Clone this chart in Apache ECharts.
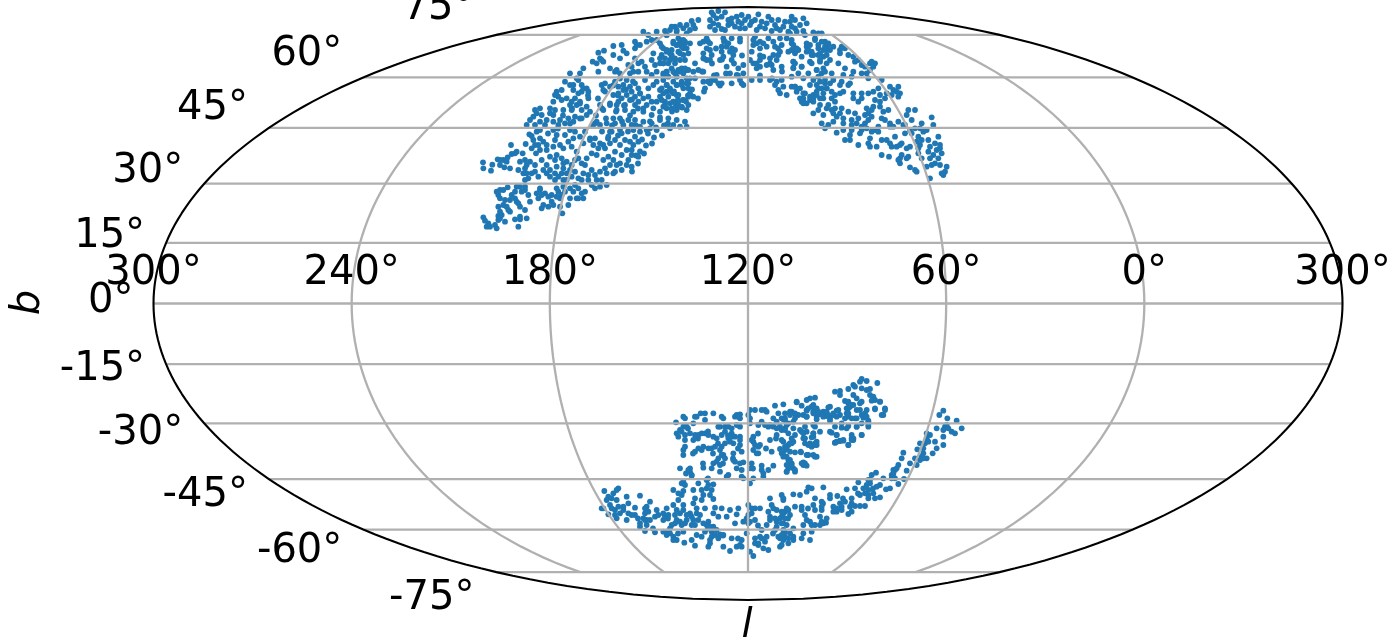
<!DOCTYPE html>
<html><head><meta charset="utf-8">
<script src="https://cdn.jsdelivr.net/npm/echarts@6/dist/echarts.min.js"></script>
<style>html,body{margin:0;padding:0;background:#fff}#c{width:1392px;height:642px}</style>
</head><body><div id="c"></div>
<script>
// Digitised star readings: [x, y] pairs, each group read on its own enlarged sheet of the sky map.
const northWest=[[24,97],[25,115],[48,122],[52,104],[68,88],[75,105],[88,112],[105,115],[85,90],[98,82],[108,45],[110,72],[125,65],[143,70],[152,42],[163,13],[185,5],[175,30],[190,45],[205,35],[215,45],[183,70],[150,90],[165,95],[180,105],[150,115],[145,130],[160,145],[180,125],[200,90],[215,105],[225,80],[240,90],[260,85],[275,95],[245,110],[265,115],[285,120],[300,90],[320,100],[305,65],[290,50],[265,55],[240,30],[245,15],[270,15],[300,5],[330,5],[355,45],[375,40],[390,55],[365,75],[400,20],[410,5],[440,10],[465,35],[490,35],[470,60],[435,45],[420,65],[400,80],[385,90],[415,90],[435,100],[460,90],[490,80],[470,110],[440,120],[420,125],[395,130],[375,125],[350,120],[325,130],[310,145],[290,140],[260,130],[240,130],[215,130],[190,140],[75,180],[70,195],[98,172],[120,185],[135,170],[150,180],[160,195],[195,180],[210,190],[230,195],[250,185],[265,170],[285,175],[310,175],[330,185],[360,175],[395,165],[285,205],[305,205],[325,205],[255,205],[230,215],[220,230],[200,235],[190,205],[165,215],[125,215],[135,230],[105,210],[85,225],[70,230],[150,240],[105,245],[80,255],[70,270],[25,262],[40,280],[35,290],[65,295],[90,275],[120,268],[135,260],[155,265],[130,290],[262,250],[280,225],[255,230],
[170,18],[195,25],[180,45],[195,60],[170,55],[215,60],[235,50],[255,45],[280,35],[295,25],[315,20],[325,40],[345,30],[360,25],[370,55],[350,70],[385,45],[405,40],[420,30],[450,30],[475,45],[480,20],[495,5],[455,60],[440,75],[470,75],[455,105],[425,105],[405,105],[390,115],[360,135],[340,135],[330,105],[335,85],[310,85],[290,105],[300,125],[275,130],[250,140],[265,100],[245,75],[225,120],[205,120],[170,130],[155,105],[135,95],[130,120],[155,130],[120,70],[95,95],[75,90],[225,140],[265,150],[275,150],[320,150],[340,150],[365,150],[380,150],[415,130],[350,165],[375,170],[300,165],[320,190],[295,185],[310,205],[270,185],[260,195],[245,175],[245,200],[220,200],[200,195],[185,190],[205,225],[235,225],[195,175],[150,170],[125,170],[140,185],[110,195],[85,180],[65,185],[75,205],[90,210],[120,205],[130,220],[95,230],[75,245],[70,258],[100,240],[45,290],[30,272],[60,285],[75,265],[135,268],[240,150],[150,150]];
const northMid=[[370,5],[385,15],[410,5],[345,35],[360,45],[345,55],[380,35],[410,30],[280,48],[305,45],[235,68],[252,62],[280,75],[300,85],[310,62],[320,70],[240,85],[250,95],[218,95],[325,105],[345,85],[355,100],[375,110],[400,70],[420,85],[430,100],[450,70],[460,40],[480,40],[490,55],[465,90],[455,115],[475,120],[500,120],[430,55],[190,115],[150,130],[180,130],[235,125],[270,115],[285,125],[300,130],[340,125],[380,125],[410,125],[440,125],[135,155],[150,165],[175,150],[185,165],[200,175],[160,180],[110,185],[115,200],[100,215],[140,205],[165,205],[185,185],[205,205],[245,165],[250,180],[285,155],[270,170],[320,150],[345,160],[375,150],[400,165],[420,180],[440,185],[470,165],[490,175],[505,160],[310,180],[335,185],[360,190],[385,200],[280,195],[295,215],[330,210],[355,215],[380,225],[410,215],[435,215],[460,215],[490,210],[505,200],[170,225],[155,240],[185,240],[130,240],[90,235],[60,235],[45,240],[40,260],[30,270],[60,275],[80,270],[100,255],[120,270],[145,265],[165,260],[210,245],[240,225],[270,225],[290,240],[315,240],[340,245],[370,245],[395,255],[420,245],[440,235],[470,240],[500,240],[225,280],[240,285],[280,265],[300,265],[325,270],[345,270],[370,275],[395,280],[420,270],[445,265],[470,270],[495,275],[60,300],[100,300],[150,300],[270,305],[300,300],[340,300],[380,300],[410,300],[450,295],
[440,15],[470,5],[500,10],[350,45],[395,30],[420,40],[440,60],[455,80],[420,100],[445,100],[470,45],[495,35],[480,70],[495,90],[505,70],[245,90],[230,100],[290,120],[335,110],[365,95],[395,90],[405,105],[330,130],[355,125],[395,135],[430,130],[465,130],[490,130],[170,145],[160,165],[190,175],[205,185],[125,180],[105,195],[125,210],[175,190],[155,215],[180,215],[150,225],[200,230],[255,160],[295,170],[310,165],[330,170],[355,175],[385,175],[410,155],[440,165],[455,185],[485,160],[500,145],[295,190],[320,195],[345,200],[305,205],[370,205],[395,215],[420,200],[445,200],[470,195],[475,215],[290,225],[315,225],[345,225],[370,235],[400,235],[430,230],[455,235],[485,230],[505,225],[50,250],[65,255],[90,250],[105,240],[75,285],[115,285],[135,280],[160,275],[185,265],[200,255],[250,240],[230,275],[260,280],[285,280],[310,285],[335,285],[360,290],[390,295],[440,285],[460,285],[480,290],[500,290],[20,285],[45,285],[100,275]];
const northTop=[[155,22],[175,18],[195,22],[150,45],[170,40],[150,65],[175,60],[205,45],[230,35],[245,30],[265,35],[295,28],[285,45],[325,35],[355,45],[395,35],[430,40],[440,55],[375,50],[345,60],[320,55],[300,65],[270,60],[245,55],[225,65],[205,60],[185,72],[165,75],[405,70],[385,80],[360,75],[335,78],[430,78],[460,82],[485,85],[115,45],[95,48],[105,70],[80,60],[70,70],[45,65],[30,75],[15,78],[50,75],[140,100],[190,100],[215,100],[240,100],[280,105],[300,110],[325,100],[360,100],[380,100],[320,125],[300,130],[280,120],[465,100],[495,110],[440,125],[475,130],[500,135],[410,130],[385,140],[360,140],[340,150],[300,165],[280,175],[290,190],[320,180],[350,165],[335,180],[365,185],[400,170],[400,188],[425,185],[450,170],[500,175],[470,195],[120,115],[130,110],[60,105],[75,115],[50,120],[80,130],[55,140],[35,150],[30,165],[60,165],[5,125],[5,150],[10,175],[130,145],[150,135],[155,150],[140,165],[185,125],[200,125],[210,140],[190,155],[215,165],[180,165],[200,185],[210,205],[235,190],[250,180],[65,190],[85,195],[105,175],[115,195],[130,200],[40,200],[20,200],[170,210],[230,210],[250,205],[10,225],[40,230],[65,230],[90,220],[105,220],[130,230],[150,235],[135,250],[165,225],[185,235],[215,235],[245,235],[250,240],[275,225],[300,225],[330,225],[345,240],[365,225],[355,255],[380,270],[405,245],[435,265],[425,290],[440,295],[460,270],[470,240],[495,235],[490,280],[5,250],[30,250],[55,270],[90,265],[100,275],[70,285],[30,295],[55,305],[5,285],
[160,30],[185,35],[160,55],[215,40],[215,55],[235,50],[255,45],[275,50],[305,50],[335,45],[350,70],[370,65],[390,50],[405,45],[420,60],[395,65],[410,80],[315,70],[290,75],[255,70],[240,70],[195,75],[60,60],[100,60],[90,75],[35,65],[20,90],[55,100],[70,105],[40,110],[65,125],[90,115],[35,135],[45,160],[70,150],[20,140],[15,160],[45,175],[140,130],[150,115],[130,160],[150,165],[195,110],[205,115],[220,150],[225,135],[185,140],[290,115],[310,115],[285,95],[275,140],[340,110],[345,125],[365,120],[395,115],[405,145],[330,160],[310,155],[290,175],[270,165],[300,185],[340,195],[355,150],[440,140],[455,150],[475,150],[490,155],[480,170],[505,120],[60,200],[75,190],[100,200],[10,210],[25,215],[50,215],[80,235],[50,240],[20,240],[10,265],[40,265],[65,240],[85,250],[175,235],[155,225],[240,225],[350,230],[370,245],[360,265],[395,245],[430,280],[450,285],[470,260],[485,250],[500,250],[460,290],[480,300],[15,300],[40,290]];
const northEast=[[0,10],[45,15],[85,10],[5,30],[50,40],[75,30],[95,35],[115,40],[130,50],[5,60],[25,60],[55,60],[70,75],[100,60],[110,75],[150,60],[165,55],[150,70],[35,80],[10,95],[35,110],[10,115],[65,100],[90,90],[120,90],[145,100],[190,80],[205,90],[215,105],[240,100],[255,100],[240,120],[100,115],[125,130],[165,115],[190,125],[215,130],[235,145],[275,150],[40,145],[5,140],[85,140],[105,150],[130,150],[155,155],[180,160],[60,165],[15,170],[20,185],[40,190],[85,175],[110,175],[150,190],[125,205],[175,165],[235,190],[215,190],[265,175],[270,195],[300,170],[325,170],[330,190],[305,195],[40,220],[70,205],[90,205],[115,225],[135,215],[190,205],[205,215],[255,210],[285,205],[155,235],[125,240],[70,250],[100,255],[140,260],[175,245],[230,235],[250,230],[270,230],[295,240],[225,255],[245,260],[275,265],[300,280],[325,275],[355,240],[375,240],[350,255],[365,270],[425,262],[395,280],[430,285],[95,280],[130,275],[160,280],[185,270],[205,265],[225,280],[105,295],[140,308],[160,300],[185,300],[215,300],[255,300],[300,290],[345,285],[375,295],[410,300],[165,330],[180,315],[205,345],[235,340],[240,325],[265,305],[315,320],[335,340],[345,310],[385,320],[415,330],[445,320],[260,350],[275,330],[300,340],[320,350],[350,355],[390,345],[420,350],[450,355],[275,375],[297,380],[330,385],[355,380],[385,370],[430,375],[455,370],[445,385],[425,405],[410,410],[360,412],[380,425],[330,400],[470,410],[450,405],[460,435],[420,445],
[10,45],[20,60],[60,45],[85,45],[65,65],[90,70],[105,50],[120,60],[155,50],[175,75],[195,95],[225,110],[245,95],[250,110],[230,130],[15,100],[25,130],[95,130],[105,125],[80,120],[55,130],[70,150],[90,155],[120,160],[150,165],[160,135],[185,140],[30,175],[30,205],[40,215],[60,200],[80,195],[100,190],[125,185],[135,195],[160,185],[190,190],[215,205],[250,185],[290,190],[320,185],[310,180],[325,200],[270,215],[245,240],[235,250],[85,240],[110,235],[135,235],[150,250],[130,250],[160,265],[195,250],[200,280],[235,270],[280,245],[265,290],[285,270],[310,290],[340,285],[360,300],[365,310],[390,295],[400,305],[115,285],[215,290],[230,295],[245,305],[185,285],[210,310],[180,330],[240,350],[290,330],[305,350],[330,345],[380,335],[395,330],[435,340],[440,360],[415,365],[360,350],[335,375],[325,390],[350,385],[395,385],[420,385],[435,400],[385,355],[465,425],[455,430],[375,420],[450,345]];
const southUpper=[[575,12],[590,18],[622,24],[550,30],[535,42],[510,48],[495,50],[600,42],[575,40],[510,60],[610,65],[630,80],[550,60],[525,78],[575,80],[545,90],[420,70],[435,68],[410,75],[380,82],[340,88],[315,92],[395,92],[430,90],[505,105],[530,100],[560,105],[615,100],[645,100],[590,105],[480,95],[460,110],[440,100],[410,105],[365,110],[385,120],[325,115],[285,105],[255,105],[240,105],[640,120],[510,120],[535,125],[555,130],[580,128],[595,140],[480,130],[440,125],[410,125],[345,130],[310,130],[275,140],[240,130],[210,118],[195,125],[155,125],[130,115],[105,115],[92,115],[75,125],[40,125],[18,142],[50,155],[70,145],[105,135],[240,145],[265,150],[295,155],[320,160],[350,150],[435,155],[495,155],[515,158],[560,155],[595,155],[150,155],[175,155],[210,155],[20,175],[35,170],[60,175],[85,180],[105,175],[130,185],[165,170],[185,175],[210,185],[250,185],[320,180],[395,170],[410,170],[430,185],[480,170],[500,180],[530,160],[575,180],[545,190],[520,195],[495,203],[535,210],[45,195],[70,195],[175,190],[190,205],[250,200],[300,195],[335,195],[365,190],[405,190],[440,200],[45,215],[100,215],[125,220],[155,215],[270,210],[210,210],[360,205],[425,215],[440,210],[40,240],[75,230],[95,225],[190,235],[215,230],[250,225],[265,235],[305,230],[330,222],[350,220],[375,232],[393,232],[415,240],[440,245],[340,240],[160,240],[145,250],[130,265],[190,255],[220,262],[245,265],[275,272],[310,272],[355,255],[365,265],[400,262],[410,272],[30,280],[60,280],[100,278],[125,280],[200,280],[295,285],[350,290],[375,290],[150,290],[175,300],[65,300],[280,305],[250,310],[220,310],
[570,20],[555,35],[590,45],[600,60],[615,75],[560,70],[535,85],[530,115],[490,120],[500,125],[475,120],[450,115],[425,95],[430,110],[470,110],[400,120],[375,115],[345,115],[335,130],[320,140],[300,150],[285,150],[330,155],[345,160],[310,155],[275,105],[290,110],[210,130],[200,120],[160,130],[145,155],[165,155],[185,160],[200,150],[185,185],[180,200],[195,185],[40,155],[30,165],[25,185],[45,180],[75,180],[95,175],[115,180],[140,190],[155,180],[40,225],[85,220],[115,220],[135,215],[150,225],[165,205],[210,195],[255,210],[265,215],[260,235],[355,210],[345,225],[365,205],[405,205],[420,205],[435,205],[430,175],[400,190],[545,180],[550,195],[510,198],[360,265],[355,280],[370,280],[400,270],[155,240],[165,250],[150,270],[140,260],[195,260],[210,265],[215,285],[240,280],[275,285],[280,295],[60,290],[55,285],[45,130],[80,125],[205,125],[235,120],[245,195]];
const southWest=[[290,2],[395,5],[440,5],[465,25],[265,20],[310,25],[335,15],[355,28],[28,48],[70,40],[55,55],[40,65],[235,45],[295,45],[265,48],[335,40],[350,45],[95,65],[135,62],[20,100],[45,90],[65,75],[165,80],[250,75],[325,60],[320,75],[355,72],[525,70],[560,60],[100,85],[85,95],[120,98],[155,95],[215,100],[235,90],[265,90],[295,85],[330,100],[360,98],[380,100],[405,105],[430,100],[460,90],[495,100],[530,90],[545,105],[565,75],[60,105],[40,118],[65,130],[100,115],[120,120],[185,105],[150,115],[210,125],[255,115],[285,115],[355,115],[305,115],[395,125],[425,118],[470,115],[565,115],[95,135],[150,135],[135,155],[180,125],[205,135],[245,135],[275,135],[310,135],[340,140],[370,125],[420,145],[460,145],[525,125],[545,140],[515,150],[155,150],[230,150],[260,150],[290,150],[335,150],[355,155],[480,135],[565,145],[150,168],[180,172],[205,170],[225,160],[265,170],[305,180],[330,170],[350,170],[375,178],[455,175],[500,165],[540,165],[215,180],[235,185],[245,195],[290,195],[320,185],[345,195],[370,190],[410,190],[440,195],[480,190],[495,185],[515,185],[550,185],[268,203],[300,212],[340,215],[385,215],[425,215],[440,215],[490,210],[520,225],[555,215],[405,228],[465,230],[475,243],
[35,75],[50,70],[65,45],[260,25],[270,30],[320,45],[340,30],[345,60],[260,60],[250,55],[300,70],[25,100],[50,100],[70,95],[85,105],[110,120],[75,115],[60,120],[150,100],[160,110],[145,130],[155,135],[135,145],[165,135],[190,120],[205,115],[220,120],[240,120],[245,105],[265,105],[275,120],[290,125],[305,100],[315,120],[255,140],[240,145],[270,145],[295,135],[325,145],[345,155],[300,150],[365,165],[385,180],[350,185],[360,180],[345,205],[215,170],[225,175],[235,195],[500,190],[490,205],[510,200],[480,205],[505,220],[525,135],[540,130],[555,130],[570,130],[520,110],[535,100],[545,155],[480,100],[470,100],[555,190],[435,210],[460,120],[455,130],[445,140],[465,140]];
const southEast=[[50,5],[100,20],[145,22],[205,5],[210,20],[240,10],[275,2],[300,5],[285,28],[315,30],[305,45],[30,35],[45,42],[80,32],[100,40],[120,42],[140,48],[170,32],[205,40],[240,30],[255,40],[80,50],[10,58],[40,65],[110,58],[150,62],[185,70],[215,55],[230,55],[265,62],[75,80],[100,75],[120,95],[60,90],[155,98],[170,105],[205,78],[230,80],[245,105],[265,75],[5,90],[45,105],[95,112],[220,115],[190,122],[165,128],[205,135],[10,125],[40,125],[85,135],[105,135],[30,155],[62,155],[80,165],[105,170],[5,160],[10,170],[30,180],[75,190],[20,195],[45,210],[20,215],[490,32],[478,45],[502,55],[530,62],[545,85],[495,80],[515,95],[470,85],[525,100],[490,110],[450,105],[465,125],[440,115],[420,130],[412,148],[435,130],[490,135],[470,145],[458,160],[430,160],[370,158],[365,175],[440,175],[420,180],[405,175],[390,190],[410,195],[380,212],[355,195],[340,210],[335,225],[288,218],[275,225],[265,240],[310,235],[345,235],[372,237],[235,247],[270,250],[300,255],[330,265],[318,268],[355,252],[250,265],[225,265],[200,268],[265,285],[280,280],[300,292],[240,285],[215,295],[225,318],[240,318],[255,318],[265,295],[215,335],[205,342],[195,305],[130,262],[85,262],[80,275],[95,265],[150,285],[172,288],[40,283],[60,285],[10,295],[105,295],[125,305],[150,295],[125,320],[180,310],[160,320],[185,330],[170,335],[20,325],[45,320],[65,320],[100,315],[5,350],[30,345],[65,330],[75,345],[120,350],[140,355],[90,365],[138,368],[120,375],[70,375],[40,385],[20,375],[5,370],[105,375],[70,400],[95,395],[40,410],[15,410],[65,415],[90,420],[25,430],[5,435],
[30,45],[15,60],[25,70],[45,55],[85,25],[115,35],[130,50],[160,40],[205,25],[220,15],[195,55],[245,45],[260,50],[245,70],[15,90],[25,100],[40,85],[70,100],[100,100],[15,140],[30,130],[20,170],[35,195],[65,190],[100,165],[170,125],[180,122],[215,120],[500,75],[490,90],[505,85],[440,100],[445,125],[430,145],[425,170],[430,175],[345,210],[350,205],[335,235],[340,222],[270,240],[260,255],[290,260],[265,270],[255,280],[285,295],[215,310],[210,320],[185,320],[160,335],[170,325],[125,330],[105,330],[15,335],[25,330],[5,335],[80,360],[95,375],[130,370],[15,395],[30,400],[10,420],[40,420],[25,415],[10,390],[5,405],[125,365]];
// stars read directly in map units, between and inside the sheets
const betweenSheets=[[-100,170],[-96,160],[-104,150],[-92,176],[-86,168],[-80,180],[-88,186],[-76,192],[-70,204],[-66,196],[-60,208],[-110,140],[-116,132],[-106,164],[-98,182],[-56,214],[-74,212],[-50,205],[-44,212],[-94,166],[-84,178],[-102,158],[-108,152],[-112,148],[-72,198],[-62,202],
[-150,205],[-143,212],[-135,218],[-128,225],[-146,195],[-138,200],[-130,208],[-122,214],[-115,222],[-152,188],[-142,185],[-132,192],[-124,198],[-116,204],[-108,210],[-155,178],[-146,172],[-136,178],[-126,182],[-118,188],[-110,195],[-158,165],[-140,165],[-130,168],[-120,172],[-112,178],[-176,195],[-168,200],[-160,208],[-185,188],[-178,180],[-168,185],[-190,175],[-200,170],
[-40,262],[-32,255],[-24,262],[-16,255],[-8,262],[-44,245],[-36,240],[-26,244],[-14,240],[-6,248],[-46,232],[-34,228],[-22,230],[-10,228],[-40,222],[-28,218],[12,248],[22,240],[30,255],[12,228],[24,225],[34,232],
[-60,-125],[-50,-135],[-40,-128],[-30,-140],[-20,-132],[-10,-145],[-55,-150],[-45,-160],[-35,-150],[-25,-160],[-15,-155],[10,-130],[18,-145],[28,-135],[-62,-170],[-40,-175],[5,-165],
[-110,-215],[-95,-225],[-80,-215],[-70,-230],[-40,-225],[-25,-232],[-10,-235],[10,-222],[25,-230],[40,-215],[60,-205],[75,-200],[95,-195],[110,-190],[125,-185]];

const lonTicks=[-180,-120,-60,0,60,120,180];
const lonLabels=['300°','240°','180°','120°','60°','0°','300°'];
const latTicks=[75,60,45,30,15,0,-15,-30,-45,-60,-75];
const latLabels=['75°','60°','45°','30°','15°','0°','-15°','-30°','-45°','-60°','-75°'];

// Layout (kept apart from the data)
const A=594.5,B=296.5,CX=748,CY=303.5;
const sheets=[[northWest,475,130],[northMid,520,30],[northTop,660,5],[northEast,790,30],[southUpper,670,375],[southWest,595,475],[southEast,780,400]];
const latLabelShift=[[-23,-26],[-21,-23],[-21,-19],[-21,-12],[-21,-6],[-20,-2],[-21,5],[-21,10],[-21,17],[-21,22],[-22,26]];

function theta(lat){const t=lat*Math.PI/180;let a=t;if(Math.abs(lat)===90)return t;
  for(let i=0;i<40;i++){a-=(2*a+Math.sin(2*a)-Math.PI*Math.sin(t))/(2+2*Math.cos(2*a));}return a;}
function proj(lon,lat){const a=theta(lat);return [A*lon/180*Math.cos(a),B*Math.sin(a)];}
const stars=betweenSheets.slice();
sheets.forEach(([pts,x0,y0])=>pts.forEach(([x,y])=>stars.push([x0+x/3-CX,CY-y0-y/3])));

function line(points,color,w,z){return {type:'line',data:points,showSymbol:false,symbol:'none',clip:false,silent:true,z:z,animation:false,
  lineStyle:{color:color,width:w}};}
function range(a,b,n){const o=[];for(let i=0;i<=n;i++)o.push(a+(b-a)*i/n);return o;}
const series=[{type:'scatter',data:stars,symbol:'circle',symbolSize:5.8,large:false,itemStyle:{color:'#1f77b4',opacity:1},z:2,animation:false,silent:true,clip:false}];
latTicks.forEach(la=>series.push(line(range(-180,180,2).map(lo=>proj(lo,la)),'#b0b0b0',2.3,3)));
lonTicks.slice(1,-1).forEach(lo=>series.push(line(range(-75,75,80).map(la=>proj(lo,la)),'#b0b0b0',2.3,3)));
series.push(line(range(-90,90,120).map(la=>proj(180,la)).concat(range(90,-90,120).map(la=>proj(-180,la))).concat([proj(180,-90)]),'#000',2.1,4));
const font={fontFamily:'DejaVu Sans',fontSize:40,color:'#000000',opacity:1,textBorderWidth:0};
function labels(items,extra){return {type:'scatter',symbolSize:1,itemStyle:{color:'rgba(0,0,0,0)'},silent:true,clip:false,animation:false,z:6,
  data:items.map(i=>({value:i.p,name:i.t})),
  label:Object.assign({show:true,position:'inside',formatter:'{b}',verticalAlign:'middle'},font,extra)};}
series.push(labels(lonTicks.map((lo,i)=>({p:[proj(lo,0)[0],30],t:lonLabels[i]})),{align:'center'}));
series.push(labels(latTicks.map((la,i)=>{const p=proj(-180,la),s=latLabelShift[i];return {p:[p[0]+s[0],p[1]-s[1]],t:latLabels[i]};}),{align:'right'}));
series.push(labels([{p:[-1,-323],t:'l'}],{align:'center',fontStyle:'italic'}));
series.push(labels([{p:[-719,1],t:'b'}],{align:'center',fontStyle:'italic',rotate:90}));

const chart=echarts.init(document.getElementById('c'),null,{renderer:'canvas'});
chart.setOption({animation:false,backgroundColor:'#fff',
  grid:{left:CX-A,top:CY-B,width:2*A,height:2*B},
  xAxis:{type:'value',min:-A,max:A,show:false},
  yAxis:{type:'value',min:-B,max:B,show:false},
  tooltip:{show:false},series});
</script></body></html>
